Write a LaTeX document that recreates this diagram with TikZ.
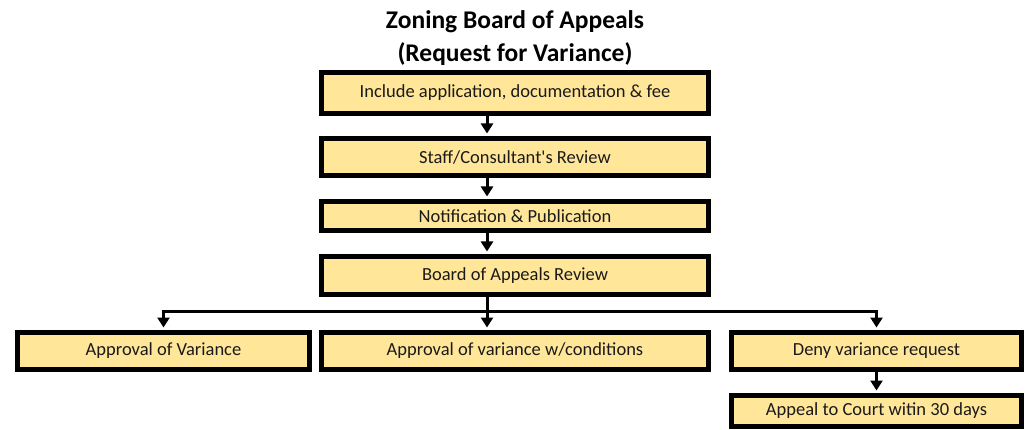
\documentclass[tikz,border=0pt]{standalone}
\usepackage{fontspec}
\setmainfont{Carlito}
\usetikzlibrary{arrows.meta}
\definecolor{boxfill}{HTML}{FFE699}
\definecolor{boxtext}{HTML}{1A1A1A}
\tikzset{
  stepbox/.style={draw=black, line width=5pt, fill=boxfill, text=boxtext,
    inner sep=0pt, minimum height=37pt, font=\fontsize{18.5}{20}\selectfont},
  arr/.style={line width=3pt, -{Triangle[width=12pt,length=10pt]}, shorten >=2.5pt},
  link/.style={line width=3pt}
}
\begin{document}
\begin{tikzpicture}[x=1pt,y=-1pt]
    \useasboundingbox (0,0) rectangle (1030,430);
    % Titlu
    \node[align=center, font=\fontsize{25.5}{33}\selectfont\bfseries] (title) at (515,38)
        {Zoning Board of Appeals\\(Request for Variance)};
    % Pasii principali
    \node[stepbox, minimum width=387pt, minimum height=41pt] (apply) at (515,93) {Include application, documentation \& fee};
    \node[stepbox, minimum width=387pt] (staff) at (515,157) {Staff/Consultant\textquotesingle s Review};
    \node[stepbox, minimum width=387pt, minimum height=29pt] (notify) at (515,216) {Notification \& Publication};
    \node[stepbox, minimum width=387pt, minimum height=38pt] (board) at (515,275.5) {Board of Appeals Review};
    % Decizii
    \node[stepbox, minimum width=292pt] (approve) at (163.5,351) {Approval of Variance};
    \node[stepbox, minimum width=387pt] (cond) at (515,351) {Approval of variance w/conditions};
    \node[stepbox, minimum width=290pt] (deny) at (876.5,351) {Deny variance request};
    \node[stepbox, minimum width=290pt, minimum height=31pt] (court) at (876.5,411) {Appeal to Court witin 30 days};
    % Sageti
    \coordinate (spine) at (487,0);
    \coordinate (fork) at (487,311);
    \draw[arr] (apply.south -| spine) -- (staff.north -| spine);
    \draw[arr] (staff.south -| spine) -- (notify.north -| spine);
    \draw[arr] (notify.south -| spine) -- (board.north -| spine);
    \draw[arr] (board.south -| spine) -- (cond.north -| spine);
    \draw[arr] (fork) -| (approve.north);
    \draw[arr] (fork) -| (deny.north);
    \draw[arr] (deny.south) -- (court.north);
\end{tikzpicture}
\end{document}
